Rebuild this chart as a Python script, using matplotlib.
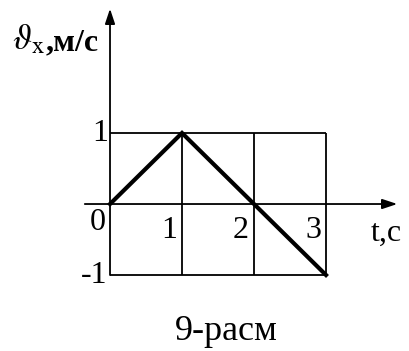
import matplotlib
matplotlib.use("Agg")
import matplotlib.pyplot as plt

plt.rcParams["font.family"] = ["Liberation Serif", "DejaVu Serif"]
plt.rcParams["mathtext.fontset"] = "stix"

# velocity vs time
t_pts = [0, 1, 2, 3]
v_pts = [0, 1, 0, -1]
x_ticks = [1, 2, 3]
x_tick_labels = ["1", "2", "3"]
y_ticks = [1, -1]
y_tick_labels = ["1", "-1"]

fig = plt.figure(figsize=(4.09, 3.51), dpi=100)
ax = fig.add_axes([0, 0, 1, 1])
ax.set_xlim(-1.528, 4.153)
ax.set_ylim(-2.070, 2.873)
ax.axis("off")

t_max = max(t_pts)

# grid box
for yv in y_ticks:
    ax.plot([0, t_max], [yv, yv], color="black", lw=1.3, solid_capstyle="butt")
for xv in x_ticks:
    ax.plot([xv, xv], [-1, 1], color="black", lw=1.3, solid_capstyle="butt")

# axes with arrows
ax.annotate("", xy=(3.99, 0), xytext=(-0.35, 0),
            arrowprops=dict(arrowstyle="-|>,head_length=0.9,head_width=0.3",
                            color="black", lw=1.3, shrinkA=0, shrinkB=0))
ax.annotate("", xy=(0, 2.75), xytext=(0, -1),
            arrowprops=dict(arrowstyle="-|>,head_length=0.9,head_width=0.3",
                            color="black", lw=1.3, shrinkA=0, shrinkB=0))

# v(t)
ax.plot(t_pts, v_pts, color="black", lw=3, solid_joinstyle="miter")

fs = 23
for xv, lab in zip(x_ticks, x_tick_labels):
    ax.text(xv - 0.18, -0.38, lab, fontsize=fs, ha="center", va="center")
ax.text(-0.17, -0.26, "0", fontsize=fs, ha="center", va="center")
for yv, lab in zip(y_ticks, y_tick_labels):
    ax.text(-0.03, yv, lab, fontsize=fs, ha="right", va="center")

ax.text(3.62, -0.41, "t,c", fontsize=fs, ha="left", va="center")
ax.text(-1.36, 2.30, r"$\vartheta_{\mathrm{x}}$", fontsize=25, ha="left", va="center")
ax.text(-0.89, 2.27, ",м/с", fontsize=23, fontweight="bold", ha="left", va="center")

ax.text(1.62, -1.79, "9-расм", fontsize=26, ha="center", va="center")

fig.savefig("out.png", dpi=100)
